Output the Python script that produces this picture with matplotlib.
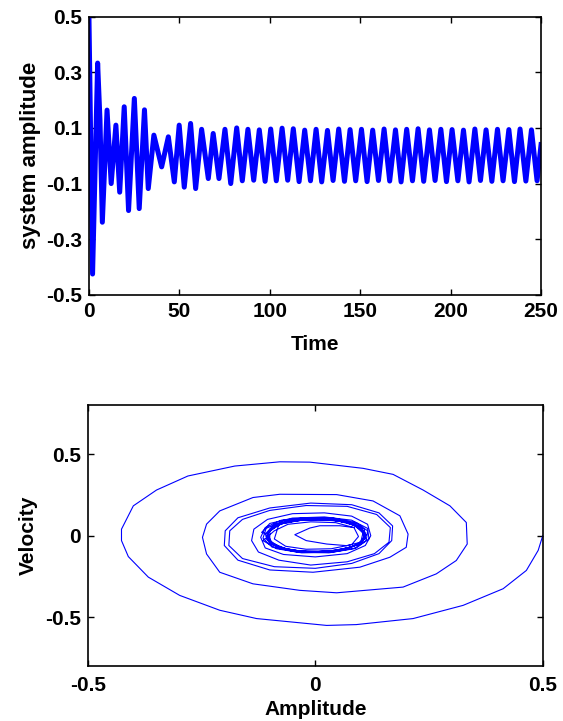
import matplotlib
matplotlib.use("Agg")
import matplotlib.pyplot as plt

plt.rcParams['font.family'] = ['Liberation Sans', 'DejaVu Sans']
plt.rcParams['font.weight'] = 'bold'
plt.rcParams['font.size'] = 15

# --- top panel: turning points of the response ---
t_pts = [0, 2.0, 4.8, 6.1, 7.4, 10.0, 12.3, 14.9, 17.0, 19.5, 21.9, 25.1, 27.8,
         30.7, 32.8, 35.9, 40.2, 43.9, 47.2, 49.9, 52.7, 56.2, 59.0, 62.3, 66.0,
         68.7, 71.9, 75.2, 78.4, 81.7, 84.8,
         87.9, 91.1, 94.2, 97.4, 100.5, 103.6, 106.8, 109.9, 113.0, 116.2,
         119.3, 122.5, 125.6, 128.7, 131.9, 135.0, 138.1, 141.3, 144.4, 147.5,
         150.7, 153.8, 156.9, 160.1, 163.2, 166.3, 169.5, 172.6, 175.7, 178.9,
         182.0, 185.1, 188.3, 191.4, 194.6, 197.7, 200.8, 204.0, 207.1, 210.2,
         213.4, 216.5, 219.6, 222.8, 225.9, 229.0, 232.2, 235.3, 238.4, 241.6,
         244.7, 247.8, 250.0]
y_pts = [0.5, -0.425, 0.333, 0.128, -0.239, 0.164, -0.100, 0.110, -0.131, 0.176, -0.197, 0.206, -0.190,
         0.165, -0.118, 0.074, -0.040, 0.068, -0.094, 0.110, -0.113, 0.116, -0.118, 0.095, -0.082,
         0.080, -0.082, 0.095, -0.100, 0.100, -0.090,
         0.095, -0.088, 0.093, -0.092, 0.096, -0.090, 0.099, -0.088, 0.097, -0.093,
         0.092, -0.090, 0.095, -0.094, 0.091, -0.089, 0.096, -0.092, 0.094, -0.090,
         0.095, -0.093, 0.092, -0.089, 0.096, -0.091, 0.093, -0.094, 0.095, -0.090,
         0.097, -0.092, 0.093, -0.089, 0.095, -0.093, 0.094, -0.090, 0.092, -0.094,
         0.096, -0.089, 0.093, -0.092, 0.095, -0.090, 0.094, -0.093, 0.096, -0.091,
         0.093, -0.090, 0.040]

# --- bottom panel: vertices of the phase trajectory (amplitude, velocity) ---
amp = [0.5, 0.49, 0.464, 0.413, 0.325, 0.215, 0.09, 0.025, -0.129, -0.21, -0.298, -0.367, -0.411, -0.426,
       -0.426, -0.4, -0.349, -0.28, -0.177, -0.078, -0.012, 0.105, 0.171, 0.237, 0.296, 0.332,
       0.334, 0.31, 0.266, 0.193, 0.047, -0.034, -0.137, -0.21, -0.239, -0.248,
       -0.239, -0.21, -0.137, -0.078, 0.047, 0.127, 0.186, 0.204, 0.2, 0.164, 0.098, -0.005,
       -0.1, -0.17, -0.2, -0.198, -0.17, -0.1, -0.01, 0.08, 0.14, 0.17, 0.168, 0.14, 0.08, 0.0,
       -0.09, -0.16, -0.19, -0.188, -0.16, -0.1, -0.02, 0.07, 0.135, 0.165, 0.162, 0.13, 0.07, -0.01,
       -0.08, -0.125, -0.14, -0.135, -0.105, -0.05, 0.02, 0.08, 0.115, 0.122, 0.11, 0.07, 0.0,
       -0.07, -0.11, -0.12, -0.11, -0.075, -0.02, 0.04, 0.09, 0.115, 0.112, 0.085, 0.03,
       -0.04, -0.095, -0.115, -0.108, -0.07, -0.01, 0.05, 0.095, 0.11, 0.1, 0.06, 0.0,
       -0.06, -0.1, -0.11, -0.09, -0.04, 0.02, 0.075, 0.108, 0.11, 0.08, 0.03, -0.03,
       -0.085, -0.108, -0.1, -0.065, -0.01, 0.05, 0.095, 0.112, 0.095, 0.05, -0.01, -0.065,
       -0.1, -0.105, -0.08, -0.03, 0.03, 0.08, 0.108, 0.105, 0.07, 0.015, -0.045, -0.09,
       -0.108, -0.095, -0.05, 0.01, 0.065, 0.1, 0.11, 0.085, 0.035, -0.025, -0.075, -0.1,
       -0.1, -0.07, -0.015, 0.045, 0.09, 0.11, 0.095, 0.05, -0.01, -0.06, -0.095, -0.105,
       -0.118, -0.1, -0.05, 0.02, 0.08, 0.115, 0.118, 0.09, 0.035, -0.03, -0.085, -0.115,
       -0.09, -0.06, -0.01, 0.045, 0.085, 0.095, 0.08, 0.035, -0.02, -0.065, -0.09,
       -0.08, -0.03, 0.03, 0.08, 0.105, 0.1,
       0.069, 0.025, -0.02, -0.045, -0.012, 0.01, 0.054, 0.085]
vel = [0.0, -0.09, -0.213, -0.325, -0.427, -0.508, -0.545, -0.55, -0.508, -0.457, -0.366, -0.254, -0.128, -0.03,
       0.04, 0.183, 0.28, 0.366, 0.427, 0.453, 0.451, 0.413, 0.376, 0.28, 0.183, 0.081,
       -0.051, -0.152, -0.234, -0.315, -0.35, -0.335, -0.295, -0.224, -0.112, -0.01,
       0.071, 0.152, 0.234, 0.254, 0.252, 0.213, 0.122, 0.01, -0.071, -0.132, -0.193, -0.224,
       -0.21, -0.15, -0.06, 0.03, 0.11, 0.17, 0.2, 0.19, 0.14, 0.06, -0.03, -0.11, -0.17, -0.2,
       -0.19, -0.14, -0.06, 0.03, 0.1, 0.155, 0.185, 0.18, 0.13, 0.05, -0.04, -0.11, -0.16, -0.18,
       -0.15, -0.1, -0.03, 0.04, 0.1, 0.135, 0.14, 0.12, 0.07, 0.0, -0.06, -0.11, -0.13,
       -0.115, -0.075, -0.01, 0.05, 0.095, 0.11, 0.108, 0.08, 0.03, -0.03, -0.08, -0.105,
       -0.1, -0.07, -0.015, 0.045, 0.09, 0.105, 0.1, 0.07, 0.015, -0.045, -0.09, -0.1,
       -0.09, -0.05, 0.01, 0.07, 0.1, 0.102, 0.085, 0.04, -0.02, -0.07, -0.095, -0.095,
       -0.07, -0.02, 0.04, 0.085, 0.1, 0.095, 0.06, 0.005, -0.055, -0.09, -0.1, -0.085,
       -0.045, 0.015, 0.07, 0.098, 0.1, 0.075, 0.025, -0.035, -0.08, -0.098, -0.092, -0.06,
       -0.005, 0.055, 0.092, 0.1, 0.085, 0.045, -0.015, -0.065, -0.095, -0.098, -0.075, -0.03,
       0.03, 0.08, 0.1, 0.095, 0.06, 0.0, -0.055, -0.09, -0.1, -0.085, -0.045, 0.01,
       0.02, 0.075, 0.108, 0.115, 0.095, 0.045, -0.02, -0.075, -0.102, -0.105, -0.08, -0.03,
       0.03, 0.07, 0.085, 0.08, 0.05, -0.005, -0.055, -0.08, -0.083, -0.065, -0.02,
       0.07, 0.095, 0.098, 0.075, 0.02, -0.04,
       -0.061, -0.051, -0.03, 0.006, 0.047, 0.061, 0.061, 0.05]

fig = plt.figure(figsize=(5.63, 7.21), dpi=100)

ax1 = fig.add_axes([0.158, 0.591, 0.803, 0.386])
ax1.plot(t_pts, y_pts, color='#0000FF', lw=3.6, solid_joinstyle='round')
ax1.set_xlim(0, 250)
ax1.set_ylim(-0.5, 0.5)
ax1.set_xticks([0, 50, 100, 150, 200, 250])
ax1.set_yticks([-0.5, -0.3, -0.1, 0.1, 0.3, 0.5])
ax1.set_yticklabels(['-0.5', '-0.3', '-0.1', '0.1', '0.3', '0.5'])
ax1.set_xlabel('Time', fontweight='bold')
ax1.set_ylabel('system amplitude', fontweight='bold', fontsize=16)
ax1.xaxis.set_label_coords(0.5, -0.145)
ax1.yaxis.set_label_coords(-0.106, 0.5)
ax1.tick_params(axis='x', pad=5)

ax2 = fig.add_axes([0.156, 0.076, 0.808, 0.362])
ax2.plot(amp, vel, color='#0000FF', lw=0.8)
ax2.set_xlim(-0.5, 0.5)
ax2.set_ylim(-0.8, 0.8)
ax2.set_xticks([-0.5, 0, 0.5])
ax2.set_xticklabels(['-0.5', '0', '0.5'])
ax2.set_yticks([-0.5, 0, 0.5])
ax2.set_yticklabels(['-0.5', '0', '0.5'])
ax2.set_xlabel('Amplitude', fontweight='bold')
ax2.set_ylabel('Velocity', fontweight='bold')
ax2.xaxis.set_label_coords(0.5, -0.13)
ax2.yaxis.set_label_coords(-0.11, 0.5)
ax2.tick_params(axis='x', pad=7)

for ax in (ax1, ax2):
    ax.tick_params(direction='in', top=True, right=True, length=4, width=1)
    ax.tick_params(axis='y', pad=5)
    for s in ax.spines.values():
        s.set_linewidth(1.2)

fig.savefig('out.png', dpi=100)
